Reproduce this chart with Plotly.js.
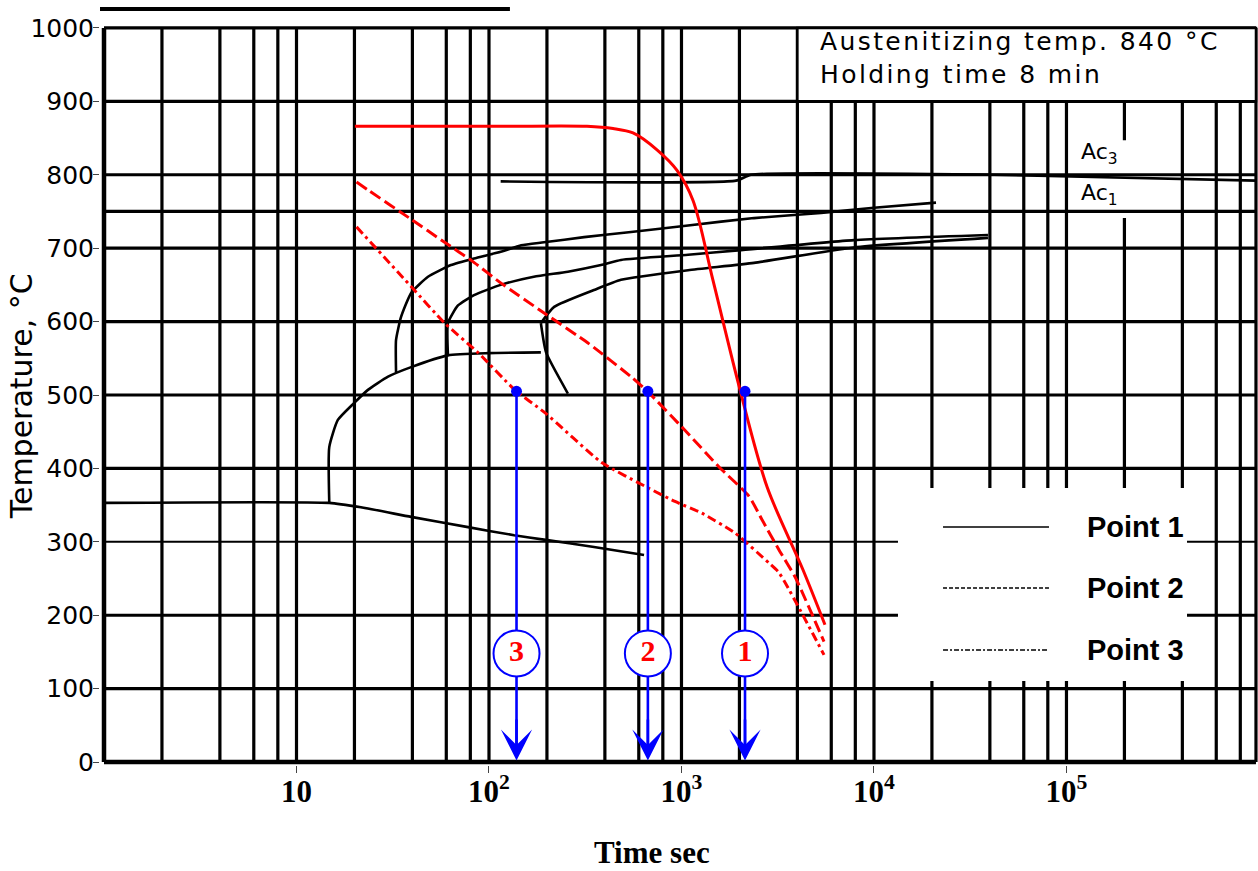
<!DOCTYPE html>
<html><head><meta charset="utf-8">
<script src="https://cdn.plot.ly/plotly-3.0.1.min.js"></script>
<style>
html,body{margin:0;padding:0;background:#fff;}
#chart{width:1258px;height:871px;}
.annotation[data-index="0"] text{letter-spacing:2.4px;}
</style></head><body><div id="chart"></div>
<script>
// ---------- axes / grid of the scanned CCT sheet ----------
const gridDecades = [1, 10, 100, 1000, 10000, 100000];
const gridMultipliers = [1, 2, 4, 6, 8];
const rightEdgeTime = 965000;
const boxLeftTime = 4000;
const gridTemps = [100, 200, 400, 500, 600, 700, 750, 800, 900, 1000];
const thinGridTemps = [300];
const gapTime = 200000;            // vertical line interrupted by the Ac labels
const gapTemps = [741, 847];
const tempTicks = [0, 100, 200, 300, 400, 500, 600, 700, 800, 900, 1000];
const timeTickVals = [10, 100, 1000, 10000, 100000];
const timeTickText = ['10', '10<sup>2</sup>', '10<sup>3</sup>', '10<sup>4</sup>', '10<sup>5</sup>'];

// ---------- transformation curves (black, scanned) ----------
const curveATime = [32.9, 32.9, 34.9, 39.4, 48.2, 63.5, 83.6, 115, 147, 193, 312, 547, 1082, 2381, 5310, 10000, 21000];
const curveATemp = [531, 575, 606, 639, 661, 677, 686, 695, 704, 708, 715, 722, 731, 741, 748, 755, 762];
const curveBTime = [61.2, 61.2, 69.0, 83.6, 115, 171, 257, 382, 485, 1082, 1966, 7870, 39100];
const curveBTemp = [554, 598, 622, 636, 650, 661, 668, 677, 684, 691, 697, 711, 718];
const curveDTime = [186, 218, 351, 485, 1082, 2381, 7870, 39100];
const curveDTemp = [598, 620, 643, 657, 670, 680, 701, 714];
const curveETime = [186, 198, 257];
const curveETemp = [598, 558, 502];
const curveCTime = [14.8, 14.8, 16.4, 19.9, 23.5, 29.9, 39.4, 61.2, 98.8, 186];
const curveCTemp = [353, 429, 466, 489, 507, 525, 538, 554, 557, 558];
const msTime = [1, 14.8, 21.6, 39.4, 77.8, 135, 193, 351, 639];
const msTemp = [353, 353, 347, 334, 320, 309, 303, 293, 282];
const ac3Time = [115, 1919, 2300, 42000, 965000];
const ac3Temp = [791, 792, 800, 800, 792];

// ---------- cooling curves ----------
const point1Time = [20.1, 114, 323, 441, 560, 746, 948, 1148, 1458, 2014, 2782, 4277, 5564];
const point1Temp = [866, 866, 866, 863, 857, 834, 806, 765, 656, 507, 375, 262, 187];
const point2Time = [20.5, 23.9, 39.6, 58.8, 81.2, 116, 195, 330, 552, 677, 1042, 1567, 2244, 2621, 3212, 3894, 5500];
const point2Temp = [790, 778, 739, 708, 683, 652, 611, 570, 524, 503, 452, 402, 362, 330, 289, 252, 164];
const point3Time = [20.5, 39.6, 58.8, 88.3, 136, 195, 385, 677, 925, 1277, 1896, 2851, 3212, 5500];
const point3Temp = [729, 647, 598, 557, 507, 476, 408, 373, 355, 339, 312, 271, 258, 146];

// ---------- marked points at 500 °C ----------
const markLabels = ['3', '2', '1'];
const markTime = [139, 669, 2138];
const markTemp = 505;
const circleTemp = 148;
const legendNames = ['Point 1', 'Point 2', 'Point 3'];

// ---------- build grid traces ----------
const vx = [], vy = [];
function vline(t, a, b) { vx.push(t, t, null); vy.push(a, b, null); }
gridDecades.forEach(d => gridMultipliers.forEach(m => {
  const t = d * m;
  if (t === 1) return;
  if (t === gapTime) { vline(t, 0, gapTemps[0]); vline(t, gapTemps[1], 1000); }
  else vline(t, 0, 1000);
}));
vline(rightEdgeTime, 0, 1000);
const hx = [], hy = [];
gridTemps.forEach(T => { hx.push(1, rightEdgeTime, null); hy.push(T, T, null); });
const tx = [], ty = [];
thinGridTemps.forEach(T => { tx.push(1, rightEdgeTime, null); ty.push(T, T, null); });

const BLK = '#000000', RED = '#ff0000', BLUE = '#0000ff';
const traces = [];
traces.push({x: vx, y: vy, mode: 'lines', line: {color: BLK, width: 3.2}, hoverinfo: 'skip', showlegend: false});
traces.push({x: hx, y: hy, mode: 'lines', line: {color: BLK, width: 3.2}, hoverinfo: 'skip', showlegend: false});
traces.push({x: tx, y: ty, mode: 'lines', line: {color: BLK, width: 2}, hoverinfo: 'skip', showlegend: false});
traces.push({x: [1, 1, null, 1, rightEdgeTime], y: [0, 1000, null, 0, 0], mode: 'lines', line: {color: BLK, width: 4.5}, hoverinfo: 'skip', showlegend: false});
[[curveATime, curveATemp], [curveBTime, curveBTemp], [curveDTime, curveDTemp], [curveETime, curveETemp],
 [curveCTime, curveCTemp], [msTime, msTemp], [ac3Time, ac3Temp]].forEach(c => {
  traces.push({x: c[0], y: c[1], mode: 'lines', line: {color: BLK, width: 2.6, shape: 'spline', smoothing: 0.5}, hoverinfo: 'skip', showlegend: false});
});
traces.push({x: point1Time, y: point1Temp, name: 'Point 1', mode: 'lines', line: {color: RED, width: 3, shape: 'spline', smoothing: 0.9}, showlegend: false});
traces.push({x: point2Time, y: point2Temp, name: 'Point 2', mode: 'lines', line: {color: RED, width: 3, dash: '12px,5px', shape: 'spline', smoothing: 0.5}, showlegend: false});
traces.push({x: point3Time, y: point3Temp, name: 'Point 3', mode: 'lines', line: {color: RED, width: 3, dash: '9px,4px,3px,4px', shape: 'spline', smoothing: 0.5}, showlegend: false});
// blue verticals
const bx = [], by = [];
markTime.forEach(t => { bx.push(t, t, null); by.push(markTemp, 20, null); });
traces.push({x: bx, y: by, mode: 'lines', line: {color: BLUE, width: 2.6}, hoverinfo: 'skip', showlegend: false});
traces.push({x: markTime, y: markTime.map(() => markTemp), mode: 'markers', marker: {color: BLUE, size: 11}, showlegend: false});
traces.push({x: markTime, y: markTime.map(() => circleTemp), mode: 'markers+text', text: markLabels, textposition: 'middle center',
  textfont: {family: 'Liberation Serif', size: 30, color: RED, weight: 'bold'},
  marker: {color: '#ffffff', size: 46, line: {color: BLUE, width: 2}}, showlegend: false, cliponaxis: false});

const arrows = markTime.map(t => ({x: Math.log10(t), y: 2, ax: Math.log10(t), ay: 60, xref: 'x', yref: 'y', axref: 'x', ayref: 'y',
  text: '', showarrow: true, arrowhead: 3, arrowsize: 2.0, arrowwidth: 2.6, arrowcolor: BLUE}));

const annFont = {family: 'DejaVu Sans', size: 25, color: '#000'};
const annotations = [
  {xref: 'paper', yref: 'paper', x: 0.620, y: 0.955, xanchor: 'left', yanchor: 'middle', align: 'left', showarrow: false,
   text: 'Austenitizing temp. 840 °C<br>Holding time 8 min', font: annFont},
  {xref: 'paper', yref: 'paper', x: 0.8454, y: 0.827, xanchor: 'left', yanchor: 'middle', showarrow: false, text: 'Ac<sub>3</sub>', font: {family: 'DejaVu Sans', size: 22, color: '#000'}},
  {xref: 'paper', yref: 'paper', x: 0.8454, y: 0.7703, xanchor: 'left', yanchor: 'middle', showarrow: false, text: 'Ac<sub>1</sub>', font: {family: 'DejaVu Sans', size: 22, color: '#000'}},
  {xref: 'paper', yref: 'paper', x: 0.4767, y: -0.118, xanchor: 'center', yanchor: 'middle', showarrow: false, text: 'Time sec',
   font: {family: 'Liberation Serif', size: 31, color: '#000', weight: 'bold'}},
  {xref: 'paper', yref: 'paper', x: -0.068, y: 0.4986, xanchor: 'center', yanchor: 'middle', showarrow: false, text: 'Temperature, °C', textangle: -90,
   font: {family: 'DejaVu Sans', size: 30, color: '#000'}},
];
const legY = [0.3216, 0.2392, 0.1554];
legendNames.forEach((n, i) => annotations.push({xref: 'paper', yref: 'paper', x: 0.8505, y: legY[i], xanchor: 'left', yanchor: 'middle', showarrow: false,
  text: n, font: {family: 'Liberation Sans', size: 29, color: '#000', weight: 'bold'}}));
arrows.forEach(a => annotations.push(a));

const legDash = ['solid', '4px,2px', '5px,2px,2px,2px'];
const shapes = [
  {type: 'line', xref: 'paper', yref: 'paper', x0: 0, x1: 0.354, y0: 1.0216, y1: 1.0216, line: {color: BLK, width: 4}},
  {type: 'rect', xref: 'x', yref: 'y', x0: boxLeftTime, x1: rightEdgeTime, y0: 900, y1: 1000, fillcolor: '#ffffff', line: {color: BLK, width: 2.5}, layer: 'above'},
  {type: 'rect', xref: 'paper', yref: 'paper', x0: 0.6891, x1: 0.9387, y0: 0.1135, y1: 0.3743, fillcolor: '#ffffff', line: {width: 0}, layer: 'above'},
];
legY.forEach((y, i) => shapes.push({type: 'line', xref: 'paper', yref: 'paper', x0: 0.728, x1: 0.8195, y0: y, y1: y, layer: 'above', line: {color: BLK, width: 1.6, dash: legDash[i]}}));

const layout = {
  width: 1258, height: 871,
  margin: {l: 100, r: 0, t: 25, b: 106},
  paper_bgcolor: '#ffffff', plot_bgcolor: '#ffffff',
  showlegend: false,
  xaxis: {type: 'log', range: [-0.0208, 5.995], showgrid: false, zeroline: false, showline: false,
    tickvals: timeTickVals, ticktext: timeTickText, ticks: 'outside', ticklen: 7, tickcolor: '#444', tickwidth: 1,
    ticklabelstandoff: -8,
    tickfont: {family: 'Liberation Serif', size: 31, color: '#000', weight: 'bold'}},
  yaxis: {range: [-4, 1004], showgrid: false, zeroline: false, showline: false,
    tickvals: tempTicks, ticks: 'outside', ticklen: 6, tickcolor: '#444', tickwidth: 1,
    ticklabelstandoff: -6,
    tickfont: {family: 'DejaVu Sans', size: 25, color: '#000'}},
  shapes: shapes,
  annotations: annotations
};
Plotly.newPlot('chart', traces, layout, {displayModeBar: false, staticPlot: true});
</script></body></html>
